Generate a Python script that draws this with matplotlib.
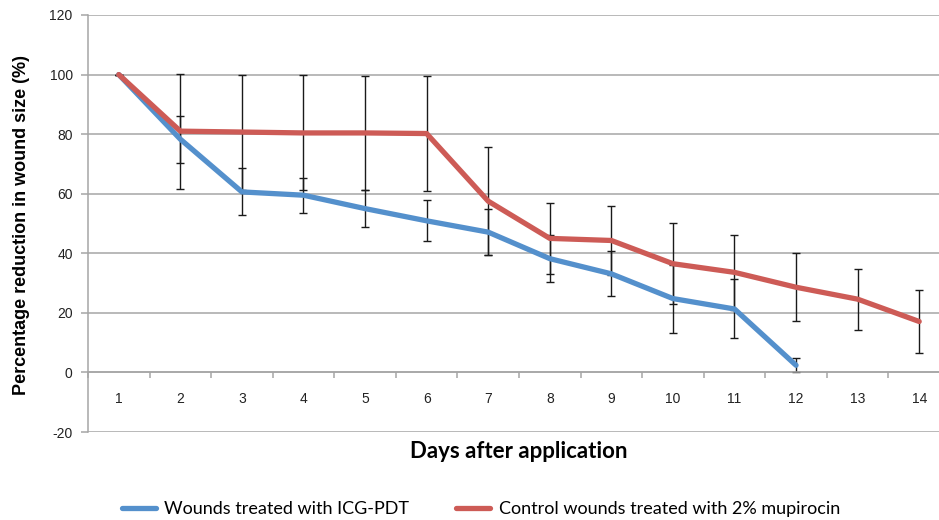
import matplotlib
matplotlib.use('Agg')
import matplotlib.pyplot as plt

plt.rcParams['axes.unicode_minus'] = False

# days after application
days = list(range(1, 15))

# wounds treated with ICG-PDT (days 1-12)
icg = [100, 78.3, 60.6, 59.5, 55.0, 50.9, 47.1, 38.2, 33.1, 24.8, 21.3, 2.4]
icg_err = [0, 7.9, 7.9, 5.9, 6.3, 6.9, 7.8, 7.9, 7.6, 11.4, 9.9, 2.3]

# control wounds treated with 2% mupirocin (days 1-14)
ctrl = [100, 81.0, 80.7, 80.4, 80.4, 80.2, 57.5, 45.0, 44.3, 36.5, 33.6, 28.6, 24.6, 17.1]
ctrl_err = [0, 19.3, 19.3, 19.3, 19.1, 19.3, 18.2, 11.8, 11.5, 13.6, 12.7, 11.4, 10.2, 10.6]

yticks = list(range(-20, 121, 20))

blue = '#5490CC'
red = '#CD5B56'
grey = '#A6A6A6'

fig = plt.figure(figsize=(9.39, 5.20), dpi=100)
ax = fig.add_axes([0.0937, 0.1692, 0.918, 0.802])

# error bars first, lines on top
ax.errorbar(days[:len(icg)], icg, yerr=icg_err, fmt='none', ecolor='#1a1a1a',
            elinewidth=1.0, capsize=3, capthick=1.0, zorder=2)
ax.errorbar(days, ctrl, yerr=ctrl_err, fmt='none', ecolor='#1a1a1a',
            elinewidth=1.0, capsize=3, capthick=1.0, zorder=2)
ax.plot(days[:len(icg)], icg, color=blue, lw=3.8, solid_capstyle='round',
        label='Wounds treated with ICG-PDT', zorder=3)
ax.plot(days, ctrl, color=red, lw=3.8, solid_capstyle='round',
        label='Control wounds treated with 2% mupirocin', zorder=4)

ax.set_xlim(0.5, 14.5)
ax.set_ylim(-20, 120)
ax.set_yticks(yticks)
ax.set_xticks(days)
ax.set_xticks([d + 0.5 for d in [0] + days], minor=True)

ax.grid(axis='y', color=grey, lw=1.1, zorder=0)
ax.set_axisbelow(True)

for s in ('top', 'right'):
    ax.spines[s].set_visible(False)
ax.spines['left'].set_color(grey)
ax.spines['left'].set_linewidth(1.1)
ax.spines['bottom'].set_position(('data', 0))
ax.spines['bottom'].set_color(grey)
ax.spines['bottom'].set_linewidth(1.1)

ax.tick_params(axis='y', direction='out', length=5, color=grey, width=1.1,
               labelsize=10, labelcolor='#222222', pad=6)
ax.tick_params(axis='x', which='major', length=0, labelsize=10,
               labelcolor='#222222', pad=14)
ax.tick_params(axis='x', which='minor', direction='out', length=4,
               color=grey, width=1.1)
for lab in ax.get_xticklabels() + ax.get_yticklabels():
    lab.set_family('Liberation Sans')

# axis titles
fig.text(0.0224, 0.567, 'Percentage reduction in wound size (%)', rotation=90,
         ha='center', va='center', fontsize=13, fontweight='bold',
         family='Liberation Sans')
fig.text(0.5525, 0.131, 'Days after application', ha='center', va='center',
         fontsize=16, fontweight='bold', family='Lato')

fig.legend(loc='center', bbox_to_anchor=(0.512, 0.021), ncol=2, frameon=False,
           prop={'family': 'Lato', 'size': 13}, handlelength=1.9,
           columnspacing=2.6, handletextpad=0.45)

fig.savefig('out.png', dpi=100)
